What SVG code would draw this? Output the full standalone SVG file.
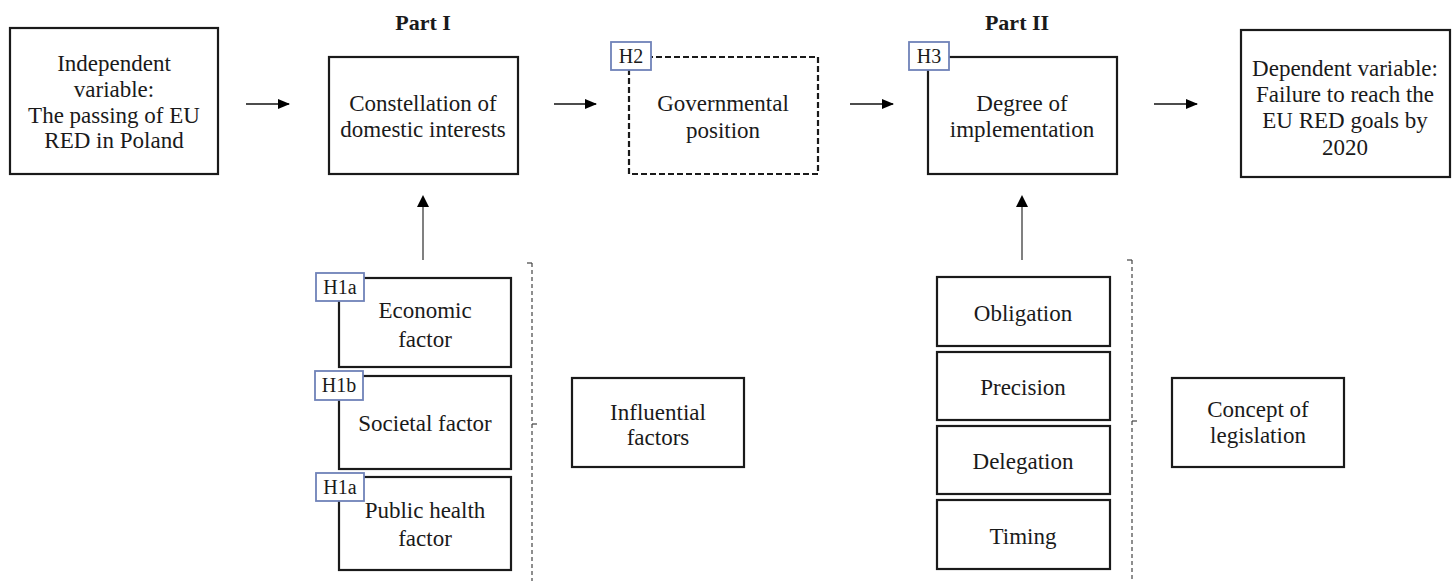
<svg xmlns="http://www.w3.org/2000/svg" width="1456" height="581" viewBox="0 0 1456 581">
<style>
.box{fill:#fff;stroke:#1a1a1a;stroke-width:2.2}
.dbox{fill:#fff;stroke:#1a1a1a;stroke-width:2.2;stroke-dasharray:6 3}
.hbox{fill:#fff;stroke:#6f82b8;stroke-width:1.8}
.t{font-family:"Liberation Serif","Times New Roman",serif;font-size:23px;fill:#1a1a1a;text-anchor:middle}
.h{font-family:"Liberation Serif","Times New Roman",serif;font-size:20px;fill:#1a1a1a;text-anchor:middle}
.b{font-family:"Liberation Serif","Times New Roman",serif;font-size:22px;font-weight:bold;fill:#1a1a1a;text-anchor:middle}
.ar{stroke:#111;stroke-width:1.6;fill:none}
.up{stroke:#808080;stroke-width:2;fill:none}
.brk{stroke:#444;stroke-width:1.2;fill:none;stroke-dasharray:4 3}
.tick{stroke:#444;stroke-width:1.2;fill:none}
</style>
<defs>
<marker id="ah" markerWidth="12" markerHeight="10" refX="11" refY="5" orient="auto" markerUnits="userSpaceOnUse">
<path d="M0,0 L12,5 L0,10 Z" fill="#000"/>
</marker>
</defs>

<text class="b" x="423" y="30">Part I</text>
<text class="b" x="1017" y="30">Part II</text>

<g id="independent">
<rect class="box" x="10" y="28" width="208" height="146"/>
<text class="t" x="114" y="71">Independent</text>
<text class="t" x="114" y="97">variable:</text>
<text class="t" x="114" y="123">The passing of EU</text>
<text class="t" x="114" y="148">RED in Poland</text>
</g>

<g id="constellation">
<rect class="box" x="329" y="57" width="189" height="117"/>
<text class="t" x="423" y="111">Constellation of</text>
<text class="t" x="423" y="137">domestic interests</text>
</g>

<g id="governmental">
<rect class="dbox" x="629" y="57" width="189" height="117"/>
<text class="t" x="723" y="111">Governmental</text>
<text class="t" x="723" y="138">position</text>
<rect class="hbox" x="611" y="42" width="40" height="28"/>
<text class="h" x="631" y="63">H2</text>
</g>

<g id="degree">
<rect class="box" x="928" y="57" width="189" height="117"/>
<text class="t" x="1022" y="111">Degree of</text>
<text class="t" x="1022" y="137">implementation</text>
<rect class="hbox" x="909" y="42" width="40" height="28"/>
<text class="h" x="929" y="63">H3</text>
</g>

<g id="dependent">
<rect class="box" x="1241" y="30" width="209" height="147"/>
<text class="t" x="1345" y="76">Dependent variable:</text>
<text class="t" x="1345" y="102">Failure to reach the</text>
<text class="t" x="1345" y="128">EU RED goals by</text>
<text class="t" x="1345" y="155">2020</text>
</g>

<g id="economic">
<rect class="box" x="339" y="278" width="172" height="89"/>
<text class="t" x="425" y="318">Economic</text>
<text class="t" x="425" y="347">factor</text>
<rect class="hbox" x="316" y="273" width="48" height="28"/>
<text class="h" x="340" y="294">H1a</text>
</g>

<g id="societal">
<rect class="box" x="339" y="376" width="172" height="93"/>
<text class="t" x="425" y="431">Societal factor</text>
<rect class="hbox" x="315" y="371" width="48" height="29"/>
<text class="h" x="339" y="392">H1b</text>
</g>

<g id="publichealth">
<rect class="box" x="339" y="477" width="172" height="93"/>
<text class="t" x="425" y="518">Public health</text>
<text class="t" x="425" y="546">factor</text>
<rect class="hbox" x="316" y="473" width="48" height="28"/>
<text class="h" x="340" y="494">H1a</text>
</g>

<g id="influential">
<rect class="box" x="572" y="378" width="172" height="89"/>
<text class="t" x="658" y="420">Influential</text>
<text class="t" x="658" y="445">factors</text>
</g>

<g id="obligation">
<rect class="box" x="937" y="277" width="173" height="69"/>
<text class="t" x="1023" y="321">Obligation</text>
</g>
<g id="precision">
<rect class="box" x="937" y="352" width="173" height="68"/>
<text class="t" x="1023" y="395">Precision</text>
</g>
<g id="delegation">
<rect class="box" x="937" y="426" width="173" height="68"/>
<text class="t" x="1023" y="469">Delegation</text>
</g>
<g id="timing">
<rect class="box" x="937" y="500" width="173" height="69"/>
<text class="t" x="1023" y="544">Timing</text>
</g>

<g id="concept">
<rect class="box" x="1172" y="378" width="172" height="89"/>
<text class="t" x="1258" y="417">Concept of</text>
<text class="t" x="1258" y="443">legislation</text>
</g>

<g id="connectors">
<line class="ar" x1="246" y1="104" x2="289" y2="104" marker-end="url(#ah)"/>
<line class="ar" x1="554" y1="104" x2="596" y2="104" marker-end="url(#ah)"/>
<line class="ar" x1="850" y1="104" x2="893" y2="104" marker-end="url(#ah)"/>
<line class="ar" x1="1154" y1="104" x2="1197" y2="104" marker-end="url(#ah)"/>
<line class="up" x1="423" y1="260" x2="423" y2="206"/>
<path d="M417,207 L423,195 L429,207 Z" fill="#000"/>
<line class="up" x1="1022" y1="260" x2="1022" y2="206"/>
<path d="M1016,207 L1022,195 L1028,207 Z" fill="#000"/>
</g>

<g id="brackets">
<line class="brk" x1="532" y1="263" x2="532" y2="581"/>
<line class="tick" x1="527" y1="263" x2="532" y2="263"/>
<line class="tick" x1="532" y1="424" x2="537" y2="424"/>
<line class="brk" x1="1132" y1="260" x2="1132" y2="581"/>
<line class="tick" x1="1127" y1="260" x2="1132" y2="260"/>
<line class="tick" x1="1132" y1="421" x2="1137" y2="421"/>
</g>
</svg>
